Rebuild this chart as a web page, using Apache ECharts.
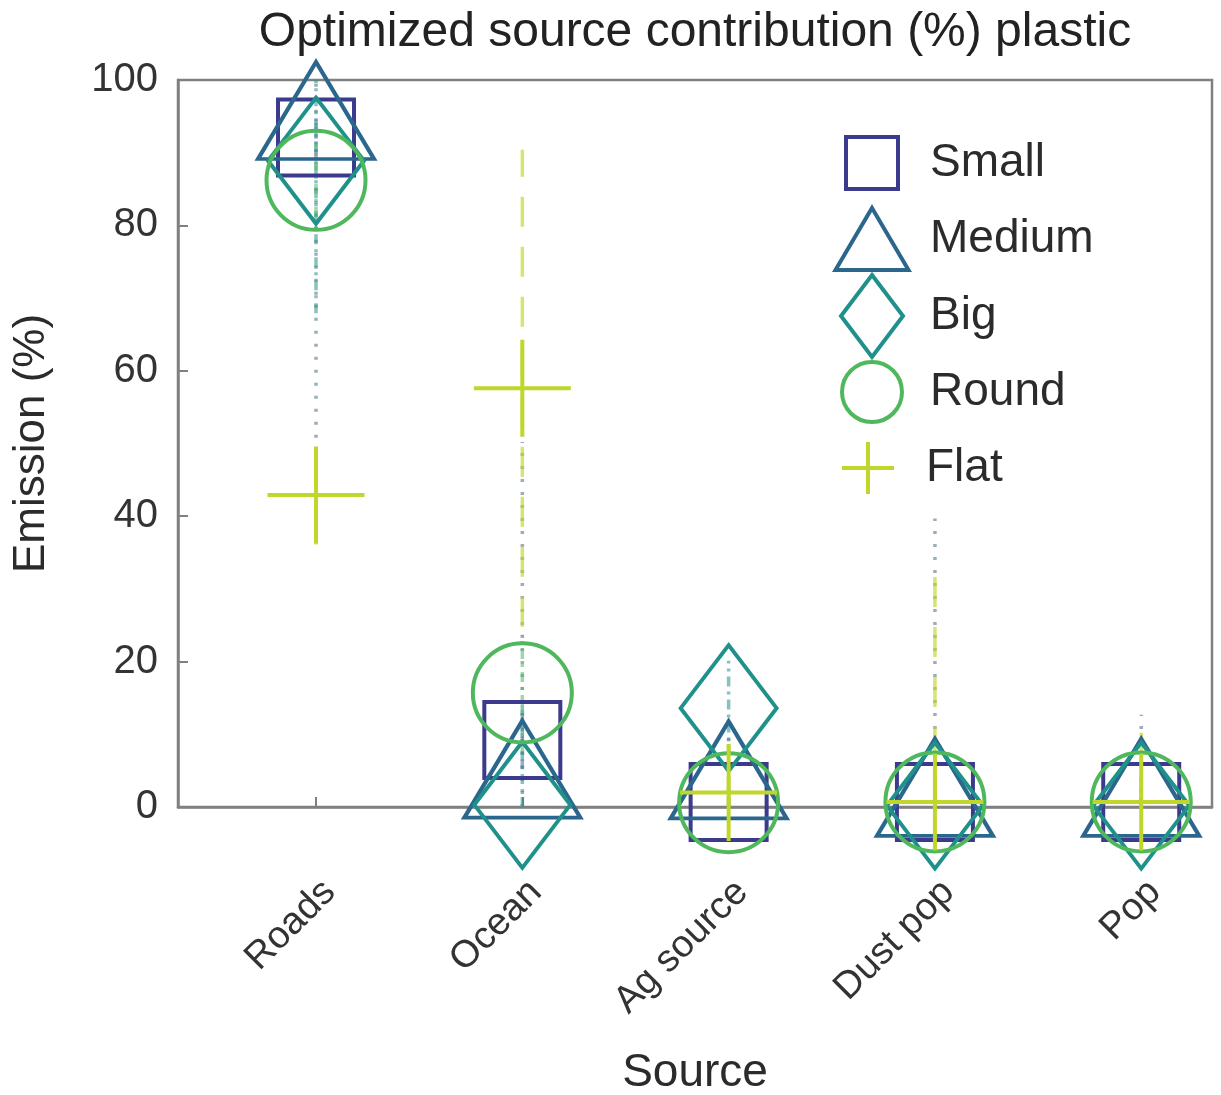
<!DOCTYPE html>
<html>
<head>
<meta charset="utf-8">
<script src="https://cdn.jsdelivr.net/npm/echarts@6/dist/echarts.min.js"></script>
<style>
  html, body { margin: 0; padding: 0; background: #ffffff; }
  #chart { width: 1221px; height: 1095px; }
</style>
</head>
<body>
<div id="chart"></div>
<script>
// Source categories along the x axis (plotted at positions 0..4)
const categories = ['Roads', 'Ocean', 'Ag source', 'Dust pop', 'Pop'];

// Mean emission (%) per plastic class and its error half-width
const smallMean  = [92.1, 9.2, 0.7, 0.7, 0.7];
const smallErr   = [3, 4, 2, 2, 2];
const mediumMean = [95.8, 5.2, 5.1, 2.7, 2.7];
const mediumErr  = [45, 45, 5, 37, 10];
const bigMean    = [88.9, 0.3, 13.6, 0.2, 0.2];
const bigErr     = [21, 14, 6.5, 3, 3];
const roundMean  = [86.2, 15.7, 0.6, 0.7, 0.7];
const roundErr   = [5, 8, 3, 3, 3];
const flatMean   = [42.9, 57.6, 2.0, 0.7, 0.7];
const flatErr    = [6.8, 32.8, 3, 32, 9.5];

// Axis ranges
const xMin = -0.669, xMax = 4.343;
const yMin = 0, yMax = 100, yStep = 20;
const xPositions = categories.map((_, i) => i);

const FONT = 'Liberation Sans, Arial, sans-serif';
const PLUS = 'path://M50,0L50,100M0,50L100,50';

const classes = [
  { name: 'Small',  mean: smallMean,  err: smallErr,  color: '#3b3a8d', symbol: 'rect',     size: [76, 76],
    errColor: 'rgba(59,58,141,0.45)',  dash: [10, 5, 3, 5],
    legend: { icon: 'rect', w: 52, h: 52, cy: 161 } },
  { name: 'Medium', mean: mediumMean, err: mediumErr, color: '#2b678d', symbol: 'triangle', size: [116, 97],
    errColor: 'rgba(120,145,160,0.75)', dash: [3, 10],
    legend: { icon: 'triangle', w: 73, h: 62, cy: 237 } },
  { name: 'Big',    mean: bigMean,    err: bigErr,    color: '#1f918a', symbol: 'diamond',  size: [96, 126],
    errColor: 'rgba(31,145,138,0.55)', dash: [10, 5, 3, 5],
    legend: { icon: 'diamond', w: 62, h: 82, cy: 314 } },
  { name: 'Round',  mean: roundMean,  err: roundErr,  color: '#4fb85c', symbol: 'circle',   size: [99, 99],
    errColor: 'rgba(79,184,92,0.55)',  dash: [10, 5, 3, 5],
    legend: { icon: 'circle', w: 60, h: 60, cy: 390 } },
  { name: 'Flat',   mean: flatMean,   err: flatErr,   color: '#c0d62a', symbol: PLUS,       size: [97, 97],
    errColor: 'rgba(192,214,42,0.65)', dash: [30, 20],
    legend: { icon: PLUS, w: 60, h: 52, cy: 466 } }
];

const clamp = v => Math.max(yMin, Math.min(yMax, v));

// Vertical error bars, one custom series per class
const errorSeries = classes.map(c => ({
  name: c.name + ' range',
  type: 'custom',
  z: 1,
  silent: true,
  data: xPositions.map(i => [i, clamp(c.mean[i] - c.err[i]), clamp(c.mean[i] + c.err[i])]),
  encode: { x: 0, y: [1, 2] },
  renderItem: (params, api) => {
    const x = api.value(0);
    const p1 = api.coord([x, api.value(1)]);
    const p2 = api.coord([x, api.value(2)]);
    return {
      type: 'line',
      shape: { x1: p1[0], y1: p1[1], x2: p2[0], y2: p2[1] },
      style: { stroke: c.errColor, lineWidth: 3.5, lineDash: c.dash, fill: null }
    };
  }
}));

// Hollow markers at the mean values
const markerSeries = classes.map((c, k) => ({
  name: c.name,
  type: 'scatter',
  z: 2 + k,
  symbol: c.symbol,
  symbolSize: c.size,
  data: xPositions.map(i => [i, c.mean[i]]),
  itemStyle: { color: 'rgba(0,0,0,0)', borderColor: c.color, borderWidth: 4, opacity: 1 },
  emphasis: { disabled: true },
  silent: true
}));

// One legend block per class, stacked inside the plot area
const legendX = 870, legendTextX = 928;
const legends = classes.map(c => ({
  data: [{ name: c.name, icon: c.legend.icon }],
  orient: 'vertical',
  left: legendX - c.legend.w / 2,
  top: c.legend.cy - c.legend.h / 2,
  padding: 0,
  itemWidth: c.legend.w,
  itemHeight: c.legend.h,
  selectedMode: false,
  itemStyle: { color: 'rgba(0,0,0,0)', borderColor: c.color, borderWidth: 4, opacity: 1 },
  textStyle: {
    fontFamily: FONT, fontSize: 46, color: '#2b2b2b', lineHeight: 46,
    padding: [0, 0, 0, legendTextX - (legendX + c.legend.w / 2 + 5)]
  }
}));

const chart = echarts.init(document.getElementById('chart'), null, { renderer: 'canvas' });
chart.setOption({
  animation: false,
  backgroundColor: '#ffffff',
  title: {
    text: 'Optimized source contribution (%) plastic',
    left: 695,
    textAlign: 'center',
    top: 9,
    padding: 0,
    textStyle: { fontFamily: FONT, fontSize: 48, fontWeight: 'normal', color: '#222' }
  },
  legend: legends,
  grid: {
    left: 178, right: 9, top: 80, bottom: 288,
    outerBoundsMode: 'none',
    containLabel: false,
    show: true, borderColor: '#808080', borderWidth: 2.5, backgroundColor: 'rgba(0,0,0,0)'
  },
  xAxis: {
    type: 'value',
    min: xMin, max: xMax,
    name: 'Source',
    nameLocation: 'middle',
    nameGap: 243,
    nameTextStyle: { fontFamily: FONT, fontSize: 46, color: '#2b2b2b' },
    axisLine: { show: true, onZero: false, lineStyle: { color: '#808080', width: 2.5 } },
    axisTick: { show: true, inside: true, length: 10, customValues: xPositions,
                lineStyle: { color: '#808080', width: 2 } },
    axisLabel: {
      customValues: xPositions,
      formatter: v => categories[Math.round(v)],
      rotate: 45, margin: 66, verticalAlign: 'top',
      fontFamily: FONT, fontSize: 38, color: '#333'
    },
    splitLine: { show: false }
  },
  yAxis: {
    type: 'value',
    min: yMin, max: yMax, interval: yStep,
    name: 'Emission (%)',
    nameLocation: 'middle',
    nameGap: 124,
    nameTextStyle: { fontFamily: FONT, fontSize: 44, color: '#2b2b2b' },
    axisLine: { show: true, onZero: false, lineStyle: { color: '#808080', width: 2.5 } },
    axisTick: { show: true, inside: true, length: 10, lineStyle: { color: '#808080', width: 2 } },
    axisLabel: { margin: 20, fontFamily: FONT, fontSize: 40, color: '#333' },
    splitLine: { show: false }
  },
  series: errorSeries.concat(markerSeries)
});
</script>
</body>
</html>
